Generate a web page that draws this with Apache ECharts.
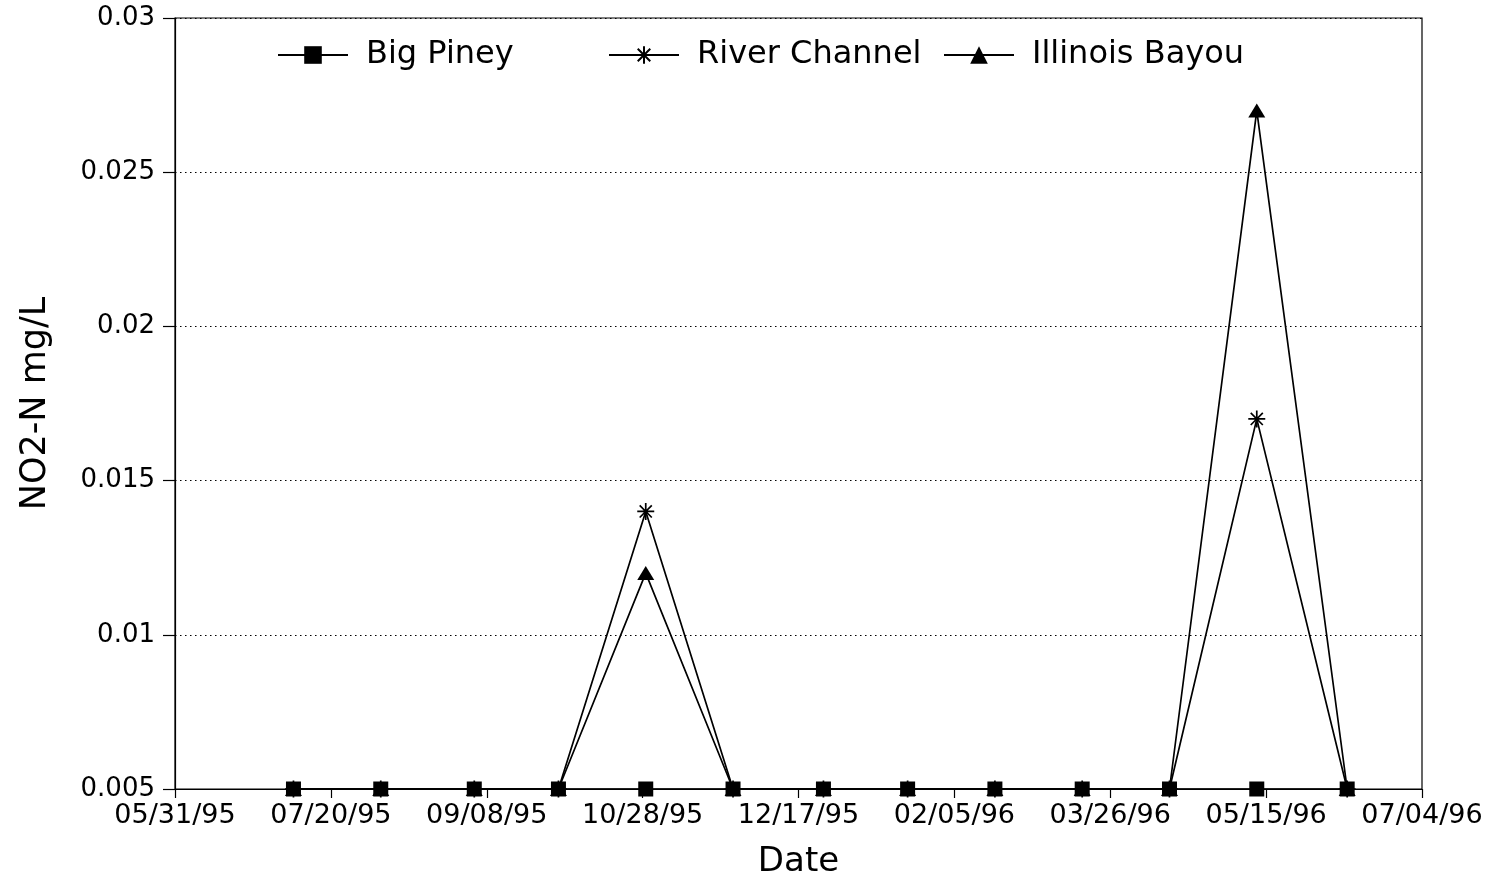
<!DOCTYPE html>
<html>
<head>
<meta charset="utf-8">
<script src="https://cdn.jsdelivr.net/npm/echarts@6/dist/echarts.min.js"></script>
<style>
html,body{margin:0;padding:0;background:#fff;}
#c{width:1492px;height:881px;}
</style>
</head>
<body>
<div id="c"></div>
<script>
// Sampling dates (MM/DD/YY)
var sampleDates = ['07/08/95','08/05/95','09/04/95','10/01/95','10/29/95','11/26/95','12/25/95','01/21/96','02/18/96','03/17/96','04/14/96','05/12/96','06/10/96'];
// NO2-N mg/L
var bigPiney      = [0.005,0.005,0.005,0.005,0.005,0.005,0.005,0.005,0.005,0.005,0.005,0.005,0.005];
var riverChannel  = [0.005,0.005,0.005,0.005,0.014,0.005,0.005,0.005,0.005,0.005,0.005,0.017,0.005];
var illinoisBayou = [0.005,0.005,0.005,0.005,0.012,0.005,0.005,0.005,0.005,0.005,0.005,0.027,0.005];
var yTicks = [0.005,0.01,0.015,0.02,0.025,0.03];
var axisStart = '05/31/95';   // first x tick
var xTickDays = 50;            // x tick spacing in days
var xTickCount = 8;

function parseDate(s){
  var p = s.split('/');
  return Date.UTC(1900 + (+p[2] < 50 ? 100 : 0) + (+p[2]), +p[0]-1, +p[1]);
}
var t0 = parseDate(axisStart);
function dayOffset(s){ return Math.round((parseDate(s) - t0)/86400000); }
function pad(n){ return (n<10?'0':'')+n; }
function fmtDay(v){
  var d = new Date(t0 + v*86400000);
  return pad(d.getUTCMonth()+1)+'/'+pad(d.getUTCDate())+'/'+pad(d.getUTCFullYear()%100);
}
function pairs(vals){ return sampleDates.map(function(s,i){ return [dayOffset(s), vals[i]]; }); }

var FONT = 'DejaVu Sans';
var asterisk = 'path://M8,0L8,16M0,8L16,8M2.3,2.3L13.7,13.7M13.7,2.3L2.3,13.7';

var chart = echarts.init(document.getElementById('c'), null, {renderer:'canvas'});
var legendBase = {
  top: 39, padding: 0, itemWidth: 70, itemHeight: 22,
  textStyle: {fontFamily: FONT, fontSize: 32, color: '#000', padding: [0,0,0,13]},
  selectedMode: false
};
chart.setOption({
  animation: false,
  backgroundColor: '#fff',
  grid: {left: 175, right: 70, top: 18, bottom: 92, outerBoundsMode: 'none', containLabel: false,
         show: true, borderColor: '#000', borderWidth: 1.2, backgroundColor: 'transparent'},
  legend: [
    Object.assign({}, legendBase, {left: 277, data: ['Big Piney']}),
    Object.assign({}, legendBase, {left: 608, data: ['River Channel']}),
    Object.assign({}, legendBase, {left: 943, data: ['Illinois Bayou']})
  ],
  xAxis: {
    type: 'value', min: 0, max: xTickDays*xTickCount, interval: xTickDays,
    name: 'Date', nameLocation: 'middle', nameGap: 56,
    nameTextStyle: {fontFamily: FONT, fontSize: 34, color: '#000'},
    axisLine: {lineStyle: {color: '#000', width: 1.2}},
    axisTick: {show: true, inside: false, length: 9, lineStyle: {color: '#000', width: 1.2}},
    axisLabel: {fontFamily: FONT, fontSize: 27, color: '#000', margin: 13, formatter: function(v){ return fmtDay(v); }},
    splitLine: {show: false}
  },
  yAxis: {
    type: 'value', min: yTicks[0], max: yTicks[yTicks.length-1], interval: 0.005,
    name: 'NO2-N mg/L', nameLocation: 'middle', nameGap: 122,
    nameTextStyle: {fontFamily: FONT, fontSize: 35, color: '#000'},
    axisLine: {show: true, lineStyle: {color: '#000', width: 1.2}},
    axisTick: {show: true, inside: false, length: 12, lineStyle: {color: '#000', width: 1.2}},
    axisLabel: {fontFamily: FONT, fontSize: 26, color: '#000', margin: 20,
      formatter: function(v){ return String(+v.toFixed(3)); }},
    splitLine: {show: true, lineStyle: {color: '#000', width: 1.2, type: [1.5,3.5]}}
  },
  series: [
    {name: 'River Channel', type: 'line', z: 3, data: pairs(riverChannel),
     symbol: asterisk, symbolSize: 17,
     itemStyle: {color: '#000', borderColor: '#000', borderWidth: 1.7},
     lineStyle: {color: '#000', width: 1.7}},
    {name: 'Illinois Bayou', type: 'line', z: 4, data: pairs(illinoisBayou),
     symbol: 'triangle', symbolSize: [17,14],
     itemStyle: {color: '#000'},
     lineStyle: {color: '#000', width: 1.7}},
    {name: 'Big Piney', type: 'line', z: 6, data: pairs(bigPiney),
     symbol: 'rect', symbolSize: 15,
     itemStyle: {color: '#000'},
     lineStyle: {color: '#000', width: 1.7}}
  ]
});
</script>
</body>
</html>
